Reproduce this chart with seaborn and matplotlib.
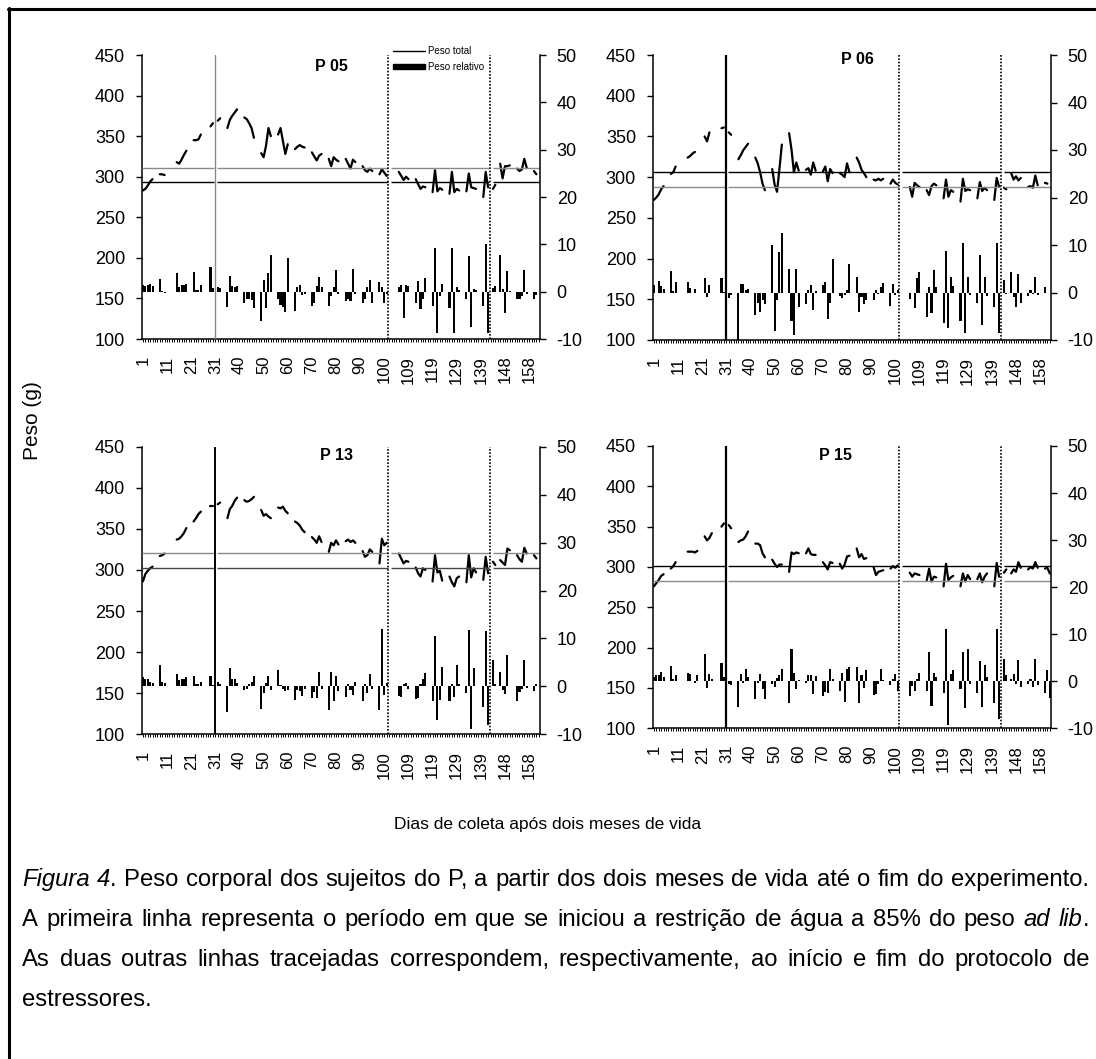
import numpy as np
import pandas as pd
import matplotlib
matplotlib.use("Agg")
import matplotlib.pyplot as plt
import seaborn as sns
from matplotlib.lines import Line2D
from matplotlib.patches import Patch

nan = np.nan

# ---------------- data ----------------
n_cat = 165
rotulos_dias = ['1', '11', '21', '31', '40', '50', '60', '70', '80', '90',
                '100', '109', '119', '129', '139', '148', '158']
marcos = [30, 102, 144]          # blank categories where the vertical lines sit

peso_p05 = [
    283, 285, 289, 294, 297, nan, nan,
    303, 303, 302, nan, nan, nan, nan,
    318, 316, 321, 327, 332, nan, nan,
    345, 345, 346, 352, nan, nan, nan,
    362, 366, nan, 369, 372, nan, nan,
    360, 370, 375, 379, 383, nan, nan,
    373, 371, 366, 360, 348, nan, nan,
    329, 324, 338, 360, 350, nan, nan,
    352, 360, 344, 328, 340, nan, nan,
    334, 337, 339, 337, 336, nan, nan,
    330, 325, 320, 326, 328, nan, nan,
    322, 313, 324, 321, 319, nan, nan,
    322, 316, 310, 321, 318, nan, nan,
    313, 308, 306, 310, 307, nan, nan,
    303, 309, 305, 301, nan, nan, nan, nan,
    306, 301, 296, 300, 297, nan, nan,
    297, 291, 285, 288, 287, nan, nan,
    281, 308, 282, 286, 284, nan, nan,
    279, 306, 281, 285, 283, nan, nan,
    282, 304, 287, 286, 285, nan, nan,
    275, 306, 287, nan, 285, 290, nan,
    316, 298, 313, 313, 314, nan, nan,
    310, 307, 309, 322, 311, nan, nan,
    307, 303, nan]
rel_p05 = [
    1.5, 1.2, 1.5, 1.6, 1.1, nan, nan,
    2.6, 0.2, -0.3, nan, nan, nan, nan,
    3.9, 1.0, 1.5, 1.4, 1.6, nan, nan,
    4.2, 0.3, 0.3, 1.5, nan, nan, nan,
    5.3, 0.8, nan, 1.0, 0.7, nan, nan,
    -3.2, 3.3, 1.2, 1.0, 1.1, nan, nan,
    -2.5, -1.5, -1.5, -1.8, -3.5, nan, nan,
    -6.3, 2.5, -3.5, 3.9, 7.7, nan, nan,
    -1.5, -2.8, -3.2, -4.3, 7.2, nan, nan,
    -4.0, 1.0, 1.5, -0.8, -0.5, nan, nan,
    -3.0, -2.5, 1.3, 3.0, 1.0, nan, nan,
    -3.0, -1.0, 1.0, 4.5, -0.5, nan, nan,
    -2.0, -1.5, -2.0, 4.7, -0.5, nan, nan,
    -2.5, -1.5, 1.0, 2.5, -2.5, nan, nan,
    2.0, 1.0, -2.5, -0.5, nan, nan, nan, nan,
    1.0, 1.5, -5.5, 1.5, 1.2, nan, nan,
    -2.5, 2.2, -3.6, -1.5, 2.8, nan, nan,
    -3.0, 9.3, -8.7, -1.0, 1.7, nan, nan,
    -3.5, 9.3, -8.8, 1.0, 0.3, nan, nan,
    -1.5, 7.5, -7.5, 0.5, 0.3, nan, nan,
    -3.1, 10.0, -8.7, nan, 0.8, 1.3, nan,
    7.7, 0.5, -4.6, 4.3, 0.2, nan, nan,
    -1.5, -1.5, -1.0, 4.5, -0.5, nan, nan,
    -1.5, -0.7, nan]
ref_p05 = [311, 293]

peso_p06 = [
    272, 275, 279, 285, 289, nan, nan,
    304, 306, 313, nan, nan, nan, nan,
    324, 326, 329, 331, nan, nan, nan,
    350, 344, 355, nan, nan, nan, nan,
    360, 361, nan, 355, 352, nan, nan,
    322, 327, 333, 337, 341, nan, nan,
    324, 317, 306, 292, 284, nan, nan,
    310, 291, 282, 310, 340, nan, nan,
    354, 334, 306, 318, 308, nan, nan,
    309, 311, 303, 318, 308, nan, nan,
    307, 313, 295, 310, 305, nan, nan,
    305, 303, 300, 317, 306, nan, nan,
    324, 318, 309, 305, 300, nan, nan,
    297, 296, 298, 296, 298, nan, nan,
    292, 297, 293, 291, nan, nan, nan, nan,
    288, 276, 293, 290, 288, nan, nan,
    284, 278, 289, 292, 290, nan, nan,
    274, 297, 276, 284, 282, nan, nan,
    270, 298, 283, 285, 284, nan, nan,
    274, 294, 283, 287, 284, nan, nan,
    272, 299, 288, nan, 287, 285, nan,
    305, 297, 301, 296, 299, nan, nan,
    288, 289, 287, 302, 290, nan, nan,
    293, 292, nan]
rel_p06 = [
    1.5, -0.2, 2.5, 1.4, 0.8, nan, nan,
    4.5, 0.3, 2.3, nan, nan, nan, nan,
    2.3, 1.0, -0.2, 0.8, nan, nan, nan,
    3.0, -1.0, 1.6, nan, nan, nan, nan,
    3.0, 0.2, nan, -1.2, -0.5, nan, nan,
    -10.0, 1.8, 1.8, 0.5, 0.7, nan, nan,
    -4.8, -2.2, -4.0, -1.5, -2.5, nan, nan,
    10.0, -8.0, -1.6, 8.5, 12.5, nan, nan,
    5.0, -6.0, -9.0, 5.0, -3.0, nan, nan,
    -2.5, 0.5, 1.5, -3.7, 0.3, nan, nan,
    1.5, 2.2, -5.5, -2.3, 7.0, nan, nan,
    -0.8, -1.2, -0.5, 0.5, 6.0, nan, nan,
    3.3, -4.0, -1.0, -2.5, -1.5, nan, nan,
    -1.5, 0.5, -0.3, 1.2, 2.0, nan, nan,
    -2.8, 1.7, -0.5, 0.5, nan, nan, nan, nan,
    -1.3, 0.0, -3.3, 3.0, 4.3, nan, nan,
    -5.2, 1.2, -4.3, 4.8, 1.2, nan, nan,
    -6.5, 8.7, -7.4, 3.2, 1.3, nan, nan,
    -6.0, 10.5, -8.5, 3.2, -0.5, nan, nan,
    -2.2, 7.8, -6.8, 3.2, -0.7, nan, nan,
    -3.0, 10.4, -8.6, nan, 2.7, -0.3, nan,
    4.3, -1.0, -3.0, 4.0, -2.2, nan, nan,
    -0.8, 0.5, -0.3, 3.3, -0.5, nan, nan,
    1.2, 0.0, nan]
ref_p06 = [306, 288]

peso_p13 = [
    286, 295, 299, 302, 304, nan, nan,
    317, 318, 320, nan, nan, nan, nan,
    337, 338, 341, 345, 351, nan, nan,
    359, 363, 368, 371, nan, nan, nan,
    378, 378, nan, 380, 382, nan, nan,
    363, 374, 378, 384, 388, nan, nan,
    385, 383, 384, 386, 389, nan, nan,
    373, 366, 368, 365, 363, nan, nan,
    376, 375, 377, 372, 369, nan, nan,
    359, 357, 354, 349, 346, nan, nan,
    340, 337, 333, 341, 334, nan, nan,
    322, 333, 330, 336, 331, nan, nan,
    335, 337, 334, 336, 333, nan, nan,
    323, 316, 318, 325, 322, nan, nan,
    308, 338, 330, 333, nan, nan, nan, nan,
    320, 314, 308, 311, 310, nan, nan,
    303, 296, 292, 302, 300, nan, nan,
    286, 318, 297, 299, 287, nan, nan,
    292, 285, 280, 290, 292, nan, nan,
    285, 318, 291, 302, 297, nan, nan,
    288, 316, 296, nan, 310, 306, nan,
    312, 309, 306, 326, 324, nan, nan,
    318, 313, 310, 327, 320, nan, nan,
    318, 314, nan]
rel_p13 = [
    2.0, 1.5, 1.5, 1.0, 0.8, nan, nan,
    4.4, 1.0, 0.8, nan, nan, nan, nan,
    2.5, 1.4, 1.5, 1.5, 2.0, nan, nan,
    2.2, 0.5, 0.5, 1.0, nan, nan, nan,
    2.2, 0.3, nan, 1.0, 0.5, nan, nan,
    -5.3, 3.9, 1.5, 1.5, 0.8, nan, nan,
    -0.8, -0.5, 0.5, 1.0, 2.2, nan, nan,
    -4.8, -1.3, 0.8, 2.2, -0.8, nan, nan,
    3.5, 0.2, -0.5, -1.0, -0.8, nan, nan,
    -2.8, -0.7, -1.0, -2.0, -0.5, nan, nan,
    -2.5, -1.2, -2.5, 3.0, -0.5, nan, nan,
    -5.0, 3.0, -3.0, 2.2, -1.0, nan, nan,
    -2.2, 0.5, -0.8, -1.7, 1.0, nan, nan,
    -3.0, 0.5, -1.3, 2.6, -0.5, nan, nan,
    -5.0, 12.0, -1.8, 0.8, nan, nan, nan, nan,
    -2.0, -2.3, 0.4, 0.8, -0.5, nan, nan,
    -2.6, -2.5, 0.5, 1.5, 2.7, nan, nan,
    -3.0, 10.5, -7.0, -2.8, 4.0, nan, nan,
    -3.0, 0.5, -2.2, 4.5, 0.5, nan, nan,
    -1.3, 11.7, -8.8, 3.8, 0.0, nan, nan,
    -4.3, 11.5, -8.0, nan, 5.5, 0.5, nan,
    3.0, -0.8, -1.5, 6.5, 0.0, nan, nan,
    -3.0, -1.2, -0.5, 5.5, -0.3, nan, nan,
    -1.0, 0.5, nan]
ref_p13 = [321, 302]

peso_p15 = [
    276, 280, 284, 289, 291, nan, nan,
    298, 301, 306, nan, nan, nan, nan,
    319, 319, 319, 318, 320, nan, nan,
    338, 333, 336, 342, nan, nan, nan,
    350, 354, nan, 352, 348, nan, nan,
    331, 333, 334, 338, 344, nan, nan,
    329, 329, 327, 317, 312, nan, nan,
    309, 304, 300, 303, 303, nan, nan,
    294, 318, 316, 318, 317, nan, nan,
    317, 323, 316, 315, 315, nan, nan,
    306, 302, 297, 306, 305, nan, nan,
    304, 298, 303, 313, 314, nan, nan,
    323, 312, 316, 310, 311, nan, nan,
    300, 290, 294, 295, 296, nan, nan,
    298, 301, 299, 302, nan, nan, nan, nan,
    293, 288, 292, 291, 290, nan, nan,
    283, 298, 282, 288, 287, nan, nan,
    276, 304, 284, 287, 289, nan, nan,
    276, 292, 282, 290, 285, nan, nan,
    285, 292, 281, 288, 292, nan, nan,
    276, 305, 288, nan, 293, 297, nan,
    292, 297, 294, 306, 299, nan, nan,
    297, 300, 298, 306, 299, nan, nan,
    298, 299, 292]
rel_p15 = [
    1.0, 1.3, 1.3, 2.0, 0.8, nan, nan,
    3.2, 0.5, 1.3, nan, nan, nan, nan,
    1.8, 1.5, 0.0, -0.3, 1.3, nan, nan,
    5.8, -1.5, 1.5, 0.5, nan, nan, nan,
    3.9, 1.0, nan, -0.5, -0.8, nan, nan,
    -5.5, 1.5, -0.3, 2.5, 1.0, nan, nan,
    -3.8, -0.3, 1.5, -1.6, -3.7, nan, nan,
    -0.5, -1.2, 0.7, 1.3, 2.5, nan, nan,
    -4.6, 6.9, 1.8, -1.6, 0.3, nan, nan,
    -0.4, 1.3, 1.3, -2.8, 1.2, nan, nan,
    -3.2, -2.2, -2.6, 2.6, 0.5, nan, nan,
    -2.0, 1.8, -4.5, 2.7, 3.0, nan, nan,
    3.0, -4.7, 1.3, -1.5, 2.3, nan, nan,
    -3.0, -2.7, -0.6, 2.7, 0.3, nan, nan,
    -0.7, 0.5, 1.5, -2.0, nan, nan, nan, nan,
    -3.2, -1.0, -2.0, 0.5, 1.7, nan, nan,
    -2.0, 6.3, -5.3, 1.8, 1.0, nan, nan,
    -2.5, 11.0, -9.3, 1.5, 2.3, nan, nan,
    -1.6, 6.3, -5.7, 6.8, -0.5, nan, nan,
    -2.5, 4.4, -5.4, 3.4, 1.0, nan, nan,
    -4.6, 11.0, -8.0, nan, 4.8, 1.3, nan,
    0.5, 1.6, -0.5, 4.5, -1.3, nan, nan,
    -0.5, 0.5, -1.3, 4.8, -0.8, nan, nan,
    -2.4, 2.4, -3.5]
ref_p15 = [301, 283]

# ---------------- style ----------------
sns.set_style("white", rc={"axes.edgecolor": "black", "text.color": "black",
                           "xtick.color": "black", "ytick.color": "black"})
fam = ['Liberation Sans', 'DejaVu Sans']
plt.rcParams['font.family'] = fam

W, H = 1096, 1059
fig = plt.figure(figsize=(W / 100, H / 100), dpi=100)
fig.patch.set_facecolor('white')


def rect(l, t, r, b):
    return [l / W, 1 - b / H, (r - l) / W, (b - t) / H]


paineis = [
    dict(nome='P 05', peso=peso_p05, rel=rel_p05, ref=ref_p05,
         rect=rect(141.7, 55, 540, 339), tit=(0.476, 0.961),
         refcores=['#8a8a8a', 'black'], vcor='#8a8a8a', vlw=1.0, legenda=True),
    dict(nome='P 06', peso=peso_p06, rel=rel_p06, ref=ref_p06,
         rect=rect(652.7, 55, 1051, 340), tit=(0.514, 0.985),
         refcores=['black', '#8a8a8a'], vcor='black', vlw=1.6, legenda=False),
    dict(nome='P 13', peso=peso_p13, rel=rel_p13, ref=ref_p13,
         rect=rect(141.7, 446.7, 540, 734.3), tit=(0.49, 0.971),
         refcores=['#8a8a8a', '#444444'], vcor='black', vlw=1.4, legenda=False),
    dict(nome='P 15', peso=peso_p15, rel=rel_p15, ref=ref_p15,
         rect=rect(652.7, 446, 1051, 728.3), tit=(0.46, 0.968),
         refcores=['black', '#8a8a8a'], vcor='black', vlw=1.6, legenda=False),
]

posicoes = np.arange(n_cat)
xt_labels = ['' for _ in range(n_cat)]
for i, r in enumerate(rotulos_dias):
    xt_labels[i * 10] = r

for p in paineis:
    ax = fig.add_axes(p['rect'])
    ax2 = ax.twinx()
    df = pd.DataFrame({'pos': posicoes, 'peso': p['peso'], 'rel': p['rel']})
    df['seg'] = df['peso'].isna().cumsum()
    dl = df.dropna(subset=['peso'])
    sns.lineplot(data=dl, x='pos', y='peso', units='seg', estimator=None,
                 color='black', lw=1.6, ax=ax, legend=False)
    db = df.dropna(subset=['rel'])
    sns.barplot(data=db, x='pos', y='rel', native_scale=True, color='black',
                saturation=1, width=0.85, errorbar=None, linewidth=0, ax=ax2)

    # reference horizontal lines, broken at the blank categories
    inicio, fim = [], []
    s = -0.5
    for b in marcos:
        inicio.append(s)
        fim.append(b - 0.6)
        s = b + 0.9
    inicio.append(s)
    fim.append(n_cat - 0.5)
    for nivel, cor in zip(p['ref'], p['refcores']):
        ax.hlines([nivel] * len(inicio), inicio, fim, color=cor, lw=1.0, zorder=3)

    # vertical event lines
    ax2.axvline(marcos[0] - 0.3, color=p['vcor'], lw=p['vlw'], zorder=5)
    for b in marcos[1:]:
        ax2.axvline(b - 0.4, color='black', lw=1.2, ls=(0, (1, 1)), zorder=5)

    ax.set_xlim(-0.5, n_cat - 0.5)
    ax.set_ylim(100, 450)
    ax2.set_ylim(-10, 50)
    ax.set_yticks(range(100, 451, 50), labels=[str(v) for v in range(100, 451, 50)],
                  fontsize=13)
    ax2.set_yticks(range(-10, 51, 10), labels=[str(v) for v in range(-10, 51, 10)],
                   fontsize=13)
    ax.set_xticks(posicoes, labels=xt_labels, rotation=90, fontsize=12)
    ax.tick_params(axis='x', direction='out', length=2.5, width=0.7, pad=9.5,
                   bottom=True)
    ax.tick_params(axis='y', direction='out', length=4, width=1.0, pad=8, left=True)
    ax2.tick_params(axis='y', direction='out', length=4, width=1.0, pad=8, right=True)
    ax.set_xlabel('')
    ax.set_ylabel('')
    ax2.set_ylabel('')
    ax2.set_xlabel('')
    for a in (ax, ax2):
        a.spines['top'].set_visible(False)
        for sp in a.spines.values():
            sp.set_linewidth(1.1)
            sp.set_color('black')
    ax.spines['right'].set_visible(False)
    ax2.spines['left'].set_visible(False)
    ax2.spines['bottom'].set_visible(False)
    ax.grid(False)
    ax2.grid(False)

    ax2.text(p['tit'][0], p['tit'][1], p['nome'], transform=ax.transAxes,
             ha='center', va='center', fontsize=11.5, fontweight='bold', zorder=6)

    if p['legenda']:
        handles = [Line2D([0], [0], color='black', lw=1.0),
                   Patch(facecolor='black', edgecolor='black')]
        ax2.legend(handles, ['Peso total', 'Peso relativo'], loc='upper left',
                   bbox_to_anchor=(0.632, 1.03), frameon=False, fontsize=7,
                   handlelength=3.2, handleheight=0.5, handletextpad=0.4,
                   labelspacing=0.55, borderpad=0, borderaxespad=0)

# ---------------- figure texts ----------------
fig.text(32 / W, 1 - 421 / H, 'Peso (g)', rotation=90, ha='center', va='center',
         fontsize=15)
fig.text(548 / W, 1 - 824 / H, 'Dias de coleta após dois meses de vida',
         ha='center', va='center', fontsize=12.5)

# frame lines (top and left)
fig.add_artist(Line2D([8 / W, 1], [1 - 9 / H, 1 - 9 / H], color='black', lw=2.2,
                      transform=fig.transFigure))
fig.add_artist(Line2D([9 / W, 9 / W], [1 - 8 / H, 0], color='black', lw=2.2,
                      transform=fig.transFigure))

# caption, justified
N, I = 'normal', 'italic'
legenda_linhas = [
    ([[('Figura', I)], [('4', I), ('.', N)]] +
     [[(w, N)] for w in 'Peso corporal dos sujeitos do P, a partir dos dois meses de vida até o fim do experimento.'.split()], True),
    ([[(w, N)] for w in 'A primeira linha representa o período em que se iniciou a restrição de água a 85% do peso'.split()] +
     [[('ad', I)], [('lib', I), ('.', N)]], True),
    ([[(w, N)] for w in 'As duas outras linhas tracejadas correspondem, respectivamente, ao início e fim do protocolo de'.split()], True),
    ([[('estressores.', N)]], False),
]
baselines = [886, 926, 966, 1006]
x0, x1 = 22, 1089
renderer = fig.canvas.get_renderer()


def medir(texto, fs, estilo='normal'):
    t = fig.text(0, 0, texto, fontsize=fs, style=estilo)
    w = t.get_window_extent(renderer).width
    t.remove()
    return w


def espaco(fs):
    return medir('a a', fs) - medir('aa', fs)


# choose the caption size so that the longest line nearly fills the width
fs0 = 10.0
naturais = []
for palavras, just in legenda_linhas[:3]:
    tot = sum(medir(tx, fs0, st) for pal in palavras for tx, st in pal)
    tot += espaco(fs0) * (len(palavras) - 1)
    naturais.append(tot)
fs_cap = fs0 * (x1 - x0 - 12) / max(naturais)
esp = espaco(fs_cap)

for (palavras, just), yb in zip(legenda_linhas, baselines):
    itens, larguras = [], []
    for palavra in palavras:
        partes, wp = [], 0.0
        for texto, estilo in palavra:
            t = fig.text(0, 1 - yb / H, texto, fontsize=fs_cap, style=estilo,
                         ha='left', va='baseline')
            w = t.get_window_extent(renderer).width
            partes.append((t, w))
            wp += w
        itens.append(partes)
        larguras.append(wp)
    if just and len(palavras) > 1:
        gap = (x1 - x0 - sum(larguras)) / (len(palavras) - 1)
    else:
        gap = esp
    x = x0
    for partes, wp in zip(itens, larguras):
        xx = x
        for t, w in partes:
            t.set_x(xx / W)
            xx += w
        x += wp + gap

fig.savefig('out.png', dpi=100, facecolor='white')
